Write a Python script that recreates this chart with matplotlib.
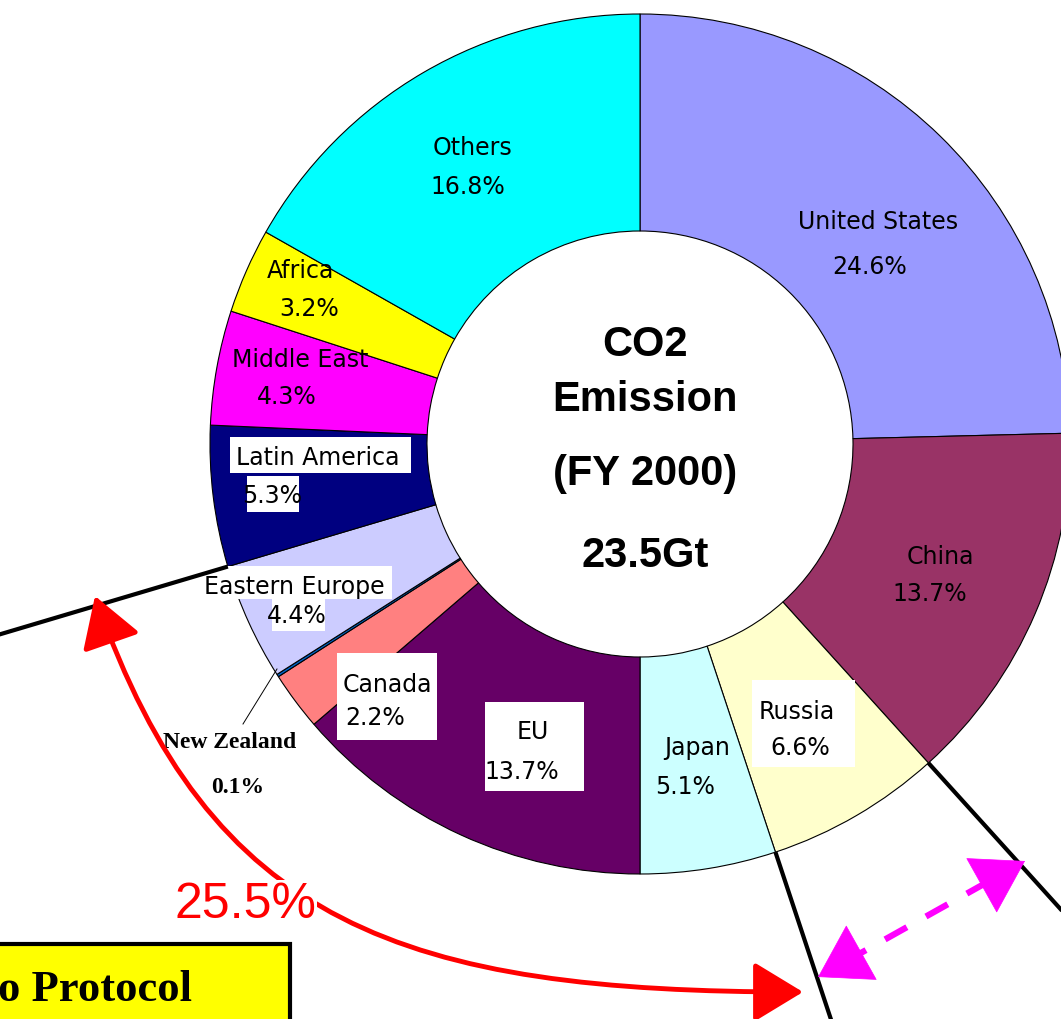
import matplotlib.pyplot as plt
from matplotlib.patches import Rectangle, FancyArrowPatch
from matplotlib.path import Path
import numpy as np

# slices, clockwise from 12 o'clock
regions = ["United States", "China", "Russia", "Japan", "EU", "Canada",
           "New Zealand", "Eastern Europe", "Latin America", "Middle East",
           "Africa", "Others"]
shares = [24.6, 13.7, 6.6, 5.1, 13.7, 2.2, 0.1, 4.4, 5.3, 4.3, 3.2, 16.8]
colors = ["#9999FF", "#993366", "#FFFFCC", "#CCFFFF", "#660066", "#FF8080",
          "#0066CC", "#CCCCFF", "#000080", "#FF00FF", "#FFFF00", "#00FFFF"]
center_lines = ["CO2", "Emission", "(FY 2000)", "23.5Gt"]
kyoto_share = "25.5%"

W, H = 1061, 1020
cx, cy, r_out, r_in = 640, 445, 430, 213

# label placement in pixel coords (name, pct)
name_xy = [(878, 222), (940, 557), (797, 712), (697, 748), (533, 732),
           (387, 685), (230, 743), (294, 587), (318, 458), (300, 360),
           (300, 271), (472, 148)]
pct_xy = [(870, 267), (930, 594), (800, 748), (685, 787), (522, 772),
          (375, 718), (238, 788), (297, 616), (272, 496), (287, 397),
          (309, 309), (468, 187)]
boxes = [(752, 681, 103, 87), (485, 703, 99, 89), (337, 654, 100, 87),
         (197, 567, 195, 33), (272, 600, 53, 32), (230, 438, 181, 36),
         (247, 477, 52, 36)]

fig = plt.figure(figsize=(W / 100, H / 100), dpi=100)
ax = fig.add_axes([0, 0, 1, 1])

ax.pie(shares, colors=colors, startangle=-90, counterclock=True,
       center=(cx, cy), radius=r_out,
       wedgeprops=dict(width=r_out - r_in, edgecolor="black", linewidth=0.8))
ax.set_xlim(0, W)
ax.set_ylim(H, 0)
ax.set_aspect("equal")
ax.axis("off")

for (x, y, w, h) in boxes:
    ax.add_patch(Rectangle((x, y), w, h, facecolor="white", edgecolor="none", zorder=3))

for i, name in enumerate(regions):
    if name == "New Zealand":
        ax.text(*name_xy[i], name, ha="center", va="center", fontsize=17,
                family="Liberation Serif", weight="bold", zorder=4)
        ax.text(*pct_xy[i], "%.1f%%" % shares[i], ha="center", va="center",
                fontsize=17, family="Liberation Serif", weight="bold", zorder=4)
    else:
        ax.text(*name_xy[i], name, ha="center", va="center", fontsize=17,
                family="DejaVu Sans", zorder=4)
        ax.text(*pct_xy[i], "%.1f%%" % shares[i], ha="center", va="center",
                fontsize=17, family="DejaVu Sans", zorder=4)

# New Zealand leader
ax.plot([277, 243], [670, 725], color="black", lw=0.7, zorder=4)

# center text
for txt, y in zip(center_lines, [345, 400, 474, 556]):
    ax.text(645, y, txt, ha="center", va="center", fontsize=30,
            family="Liberation Sans", weight="bold", zorder=4)

# radial black lines at boundaries
cum = np.cumsum([0] + shares)
for frac, length in [(cum[2], 700), (cum[3], 700), (cum[8], 800)]:
    ang = np.deg2rad(90 - frac * 3.6)
    dx, dy = np.cos(ang), -np.sin(ang)
    ax.plot([cx + r_out * dx, cx + length * dx], [cy + r_out * dy, cy + length * dy],
            color="black", lw=3, solid_capstyle="butt", zorder=5)

# red curved double arrow
curve = Path([(95, 597), (210, 926), (403, 993), (803, 993)],
             [Path.MOVETO, Path.CURVE4, Path.CURVE4, Path.CURVE4])
red = FancyArrowPatch(path=curve,
                      arrowstyle="<|-|>,head_length=1.4,head_width=0.85",
                      mutation_scale=22, color="red", lw=3.5, zorder=5)
ax.add_patch(red)
ax.text(245, 905, kyoto_share, ha="center", va="center", fontsize=36,
        family="Liberation Sans", color="red", zorder=6,
        bbox=dict(facecolor="white", edgecolor="none", pad=1))

# magenta dashed double arrow: dashed shaft plus solid heads
p0, p1 = np.array([818, 978]), np.array([1025, 862])
u = (p1 - p0) / np.linalg.norm(p1 - p0)
ax.plot([p0[0] + 30 * u[0], p1[0] - 30 * u[0]], [p0[1] + 30 * u[1], p1[1] - 30 * u[1]],
        color="#FF00FF", lw=4.5, linestyle=(0, (4, 3.5)), solid_capstyle="butt", zorder=5)
for tip in (p0, p1):
    d = -u if tip is p0 else u
    ax.add_patch(FancyArrowPatch(tuple(tip - 40 * d), tuple(tip),
                                 arrowstyle="-|>,head_length=1.6,head_width=1.0",
                                 mutation_scale=22, color="#FF00FF", lw=0.5,
                                 shrinkA=0, shrinkB=0, zorder=5))

# Kyoto Protocol box
ax.add_patch(Rectangle((-10, 945), 300, 90, facecolor="#FFFF00",
                       edgecolor="black", lw=3, zorder=6))
ax.text(192, 990, "Kyoto Protocol", ha="right", va="center", fontsize=32,
        family="Liberation Serif", weight="bold", zorder=7)

fig.savefig("out.png", dpi=100)
